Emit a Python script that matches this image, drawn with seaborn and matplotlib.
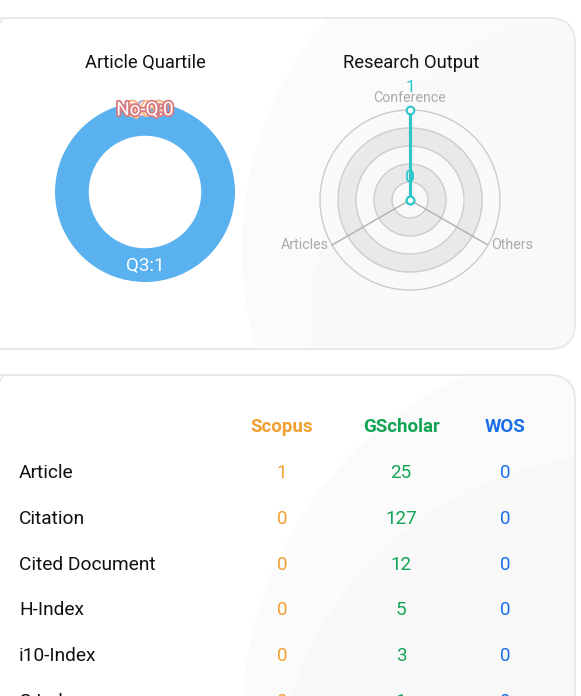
import numpy as np
import matplotlib
matplotlib.use('Agg')
import matplotlib.pyplot as plt
import matplotlib.patheffects as pe
from matplotlib.patches import FancyBboxPatch, Circle
import seaborn as sns

sns.set_theme(style='white')
plt.rcParams['font.family'] = ['Roboto', 'DejaVu Sans']

# data
quartiles = ['Q1', 'Q2', 'Q3', 'Q4', 'No-Q']
quartile_counts = [0, 0, 1, 0, 0]
quartile_colors = ['#2ec7c9', '#b6a2de', '#5ab1ef', '#ffb980', '#d87a80']

output_types = ['Conference', 'Articles', 'Others']
output_counts = [1, 0, 0]
output_max = 1

metrics = ['Article', 'Citation', 'Cited Document', 'H-Index', 'i10-Index', 'G-Index']
sources = ['Scopus', 'GScholar', 'WOS']
scopus = [1, 0, 0, 0, 0, 0]
gscholar = [25, 127, 12, 5, 3, 1]
wos = [0, 0, 0, 0, 0, 0]
source_colors = ['#f0a030', '#11a454', '#1a6fe8']

W, H = 581, 696
fig = plt.figure(figsize=(W / 100, H / 100), dpi=100)
fig.patch.set_facecolor('white')

# background / cards in pixel coords
bg = fig.add_axes([0, 0, 1, 1])
bg.set_xlim(0, W)
bg.set_ylim(H, 0)
bg.axis('off')

cards = [(-20, 18, 595, 331), (-20, 375, 595, 400)]
deco = [[((600, 250), 358, '#fbfbfb'), ((640, 330), 330, '#f9f9f9')],
        [((620, 720), 378, '#fbfbfb'), ((620, 800), 345, '#f8f8f8')]]
for (x, y, w, h), circles in zip(cards, deco):
    card = FancyBboxPatch((x, y), w, h, boxstyle='round,pad=0,rounding_size=26',
                          facecolor='white', edgecolor='#e6e6e6', lw=1)
    bg.add_patch(card)
    for c, r, col in circles:
        circ = Circle(c, r, facecolor=col, edgecolor='none')
        bg.add_patch(circ)
        circ.set_clip_path(card)
    edge = FancyBboxPatch((x, y), w, h, boxstyle='round,pad=0,rounding_size=26',
                          facecolor='none', edgecolor='#e6e6e6', lw=1)
    bg.add_patch(edge)

bg.text(145, 63, 'Article Quartile', ha='center', va='center', fontsize=13.2, color='#111111')
bg.text(411, 63, 'Research Output', ha='center', va='center', fontsize=13.2, color='#111111')

# donut
ax_p = fig.add_axes([55 / W, 1 - 282 / H, 180 / W, 180 / H])
ax_p.set_facecolor('none')
wedges, _ = ax_p.pie(quartile_counts, colors=quartile_colors, startangle=90,
                     counterclock=False, radius=1,
                     wedgeprops=dict(width=0.375, edgecolor='none'))
ax_p.set_xlim(-1, 1)
ax_p.set_ylim(-1, 1)
ax_p.set_aspect('auto')
for wdg, name, val, col in zip(wedges, quartiles, quartile_counts, quartile_colors):
    ang = np.deg2rad((wdg.theta1 + wdg.theta2) / 2)
    r = 0.82 if val > 0 else 0.91
    t = ax_p.text(r * np.cos(ang), r * np.sin(ang), f'{name}:{val}', ha='center', va='center',
                  fontsize=13.5, color='white', zorder=5)
    if val == 0:
        t.set_path_effects([pe.withStroke(linewidth=2.6, foreground=col)])

# radar
ax_r = fig.add_axes([320 / W, 1 - 290 / H, 180 / W, 180 / H], projection='polar')
ax_r.set_theta_offset(np.pi / 2)
ax_r.set_ylim(0, output_max)
ax_r.axis('off')
t_full = np.linspace(0, 2 * np.pi, 361)
n_split = 5
for i in range(n_split):
    r0, r1 = output_max * i / n_split, output_max * (i + 1) / n_split
    fill = (0.78, 0.78, 0.78, 0.3) if i % 2 else (0.98, 0.98, 0.98, 0.3)
    ax_r.fill_between(t_full, r0, r1, color=fill, lw=0)
    ax_r.plot(t_full, np.full_like(t_full, r1), color='#cccccc', lw=1, clip_on=False)

angles = np.linspace(0, 2 * np.pi, len(output_types), endpoint=False)
for a, name in zip(angles, output_types):
    ax_r.plot([a, a], [0, output_max], color='#b0b0b0', lw=1, clip_on=False)
    deg = (np.rad2deg(a) + 90) % 360
    if abs(deg - 90) < 1:
        ha, off = 'center', (0, 9)
    elif deg < 270:
        ha, off = 'right', (-2, 0)
    else:
        ha, off = 'left', (2, 0)
    ax_r.annotate(name, (a, output_max), xytext=off, textcoords='offset points',
                  ha=ha, va='center', fontsize=10.2, color='#aaaaaa', annotation_clip=False)

th = np.append(angles, angles[0])
vals = np.append(output_counts, output_counts[0])
ax_r.plot(th, vals, color='#2ec7c9', lw=2.2, clip_on=False, zorder=4)
ax_r.plot(angles, output_counts, ls='none', marker='o', ms=5.5, mfc='white', mec='#2ec7c9',
          mew=1.5, clip_on=False, zorder=5)
for a, v in zip(angles, output_counts):
    ax_r.annotate(str(v), (a, v), xytext=(0, 16), textcoords='offset points', ha='center',
                  va='center', fontsize=12.5, color='#2ec7c9', annotation_clip=False, zorder=6)

# table
col_x = [282, 401, 505]
for x, name, col in zip(col_x, sources, source_colors):
    bg.text(x, 427, name, ha='center', va='center', fontsize=13.5, fontweight='bold', color=col)
for i, m in enumerate(metrics):
    y = 473 + i * 45.8
    bg.text(19, y, m, ha='left', va='center', fontsize=13.8, color='#111111')
    for x, series, col in zip(col_x, [scopus, gscholar, wos], source_colors):
        bg.text(x, y, str(series[i]), ha='center', va='center', fontsize=13.5, color=col)

fig.savefig('out.png', dpi=100, facecolor='white')
